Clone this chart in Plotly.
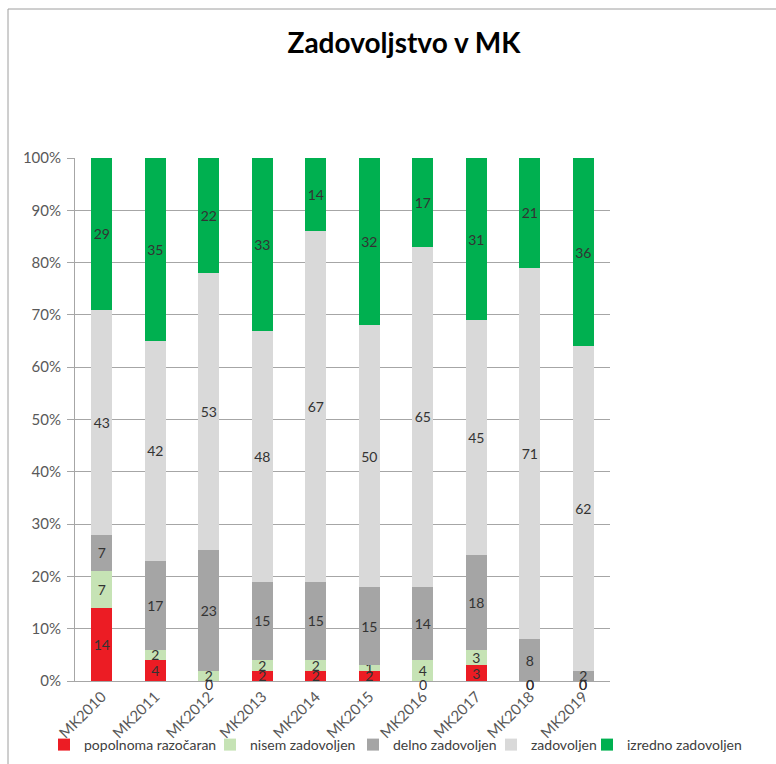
import plotly.graph_objects as go

# Survey results per year (number of answers in each satisfaction class)
categories = ["MK2010", "MK2011", "MK2012", "MK2013", "MK2014",
              "MK2015", "MK2016", "MK2017", "MK2018", "MK2019"]
series_names = ["popolnoma razočaran", "nisem zadovoljen", "delno zadovoljen",
                "zadovoljen", "izredno zadovoljen"]
popolnoma_razocaran = [14, 4, 0, 2, 2, 2, 0, 3, 0, 0]
nisem_zadovoljen = [7, 2, 2, 2, 2, 1, 4, 3, 0, 0]
delno_zadovoljen = [7, 17, 23, 15, 15, 15, 14, 18, 8, 2]
zadovoljen = [43, 42, 53, 48, 67, 50, 65, 45, 71, 62]
izredno_zadovoljen = [29, 35, 22, 33, 14, 32, 17, 31, 21, 36]
y_ticks = list(range(0, 101, 10))

series_values = [popolnoma_razocaran, nisem_zadovoljen, delno_zadovoljen,
                 zadovoljen, izredno_zadovoljen]
colors = ["#EC1C24", "#C6E3B5", "#A5A5A5", "#D9D9D9", "#00B050"]

W, H = 776, 764
ML, MR, MT, MB = 75, 166, 158, 83
PW, PH = W - ML - MR, H - MT - MB

font_family = "Lato, 'Open Sans', Arial, sans-serif"
label_color = "#333333"

fig = go.Figure()
legend_names = ["legend", "legend2", "legend3", "legend4", "legend5"]
for name, vals, col, lg in zip(series_names, series_values, colors, legend_names):
    fig.add_trace(go.Bar(
        name=name,
        x=categories,
        y=vals,
        marker=dict(color=col, line=dict(width=0)),
        text=[str(v) if v > 0 else "" for v in vals],
        textposition="inside",
        insidetextanchor="middle",
        constraintext="none",
        textangle=0,
        textfont=dict(size=14, color=label_color, family=font_family),
        cliponaxis=False,
        legend=lg,
        hovertemplate="%{x}<br>" + name + ": %{y}<extra></extra>",
    ))

# Labels for empty segments, placed at the stack position of the segment
annotations = []
for i, cat in enumerate(categories):
    total = sum(v[i] for v in series_values)
    cum = 0
    for vals in series_values:
        if vals[i] == 0:
            annotations.append(dict(
                x=cat, y=cum / total * 100, xref="x", yref="y",
                text="0", showarrow=False, yshift=-3,
                font=dict(size=14, color=label_color, family=font_family),
            ))
        cum += vals[i]

# Legend entries laid out in one row under the axis labels
legend_text_start = [85, 251, 394, 532, 628]
legends = {}
for lg, xt in zip(legend_names, legend_text_start):
    legends[lg] = dict(
        x=(xt - 41) / W, xref="container", xanchor="left",
        y=1 - 745 / H, yref="container", yanchor="middle",
        orientation="h", bgcolor="rgba(0,0,0,0)",
        font=dict(size=14, color="#404040", family=font_family),
        itemclick=False, itemdoubleclick=False,
    )

fig.update_layout(
    width=W, height=H,
    margin=dict(l=ML, r=MR, t=MT, b=MB, autoexpand=False),
    paper_bgcolor="white", plot_bgcolor="white",
    barmode="stack", barnorm="percent", bargap=0.6,
    title=dict(
        text="<b>Zadovoljstvo v MK</b>",
        x=404 / W, xref="container", xanchor="center",
        y=1 - 43 / H, yref="container", yanchor="middle",
        font=dict(size=28, color="#000000", family=font_family),
    ),
    xaxis=dict(
        type="category",
        tickangle=-45,
        tickfont=dict(size=15, color="#595959", family=font_family),
        showline=True, linecolor="#A6A6A6", linewidth=1,
        showgrid=False, ticks="",
    ),
    yaxis=dict(
        range=[0, 100],
        tickvals=y_ticks,
        ticktext=[f"{t}%" for t in y_ticks],
        tickfont=dict(size=15, color="#595959", family=font_family),
        ticklabelstandoff=3,
        showgrid=True, gridcolor="#A6A6A6", gridwidth=1,
        showline=True, linecolor="#A6A6A6", linewidth=1,
        ticks="outside", ticklen=7, tickcolor="#A6A6A6",
        zeroline=False,
    ),
    annotations=annotations,
    shapes=[dict(
        type="rect", xref="paper", yref="paper",
        x0=(8 - ML) / PW, x1=(W + 20 - ML) / PW,
        y0=-(H + 20 - MT - PH) / PH, y1=(MT + PH - 9) / PH,
        line=dict(color="#9E9E9E", width=1), fillcolor="rgba(0,0,0,0)",
        layer="below",
    )],
    showlegend=True,
    **legends,
)

fig.write_html("out.html")
